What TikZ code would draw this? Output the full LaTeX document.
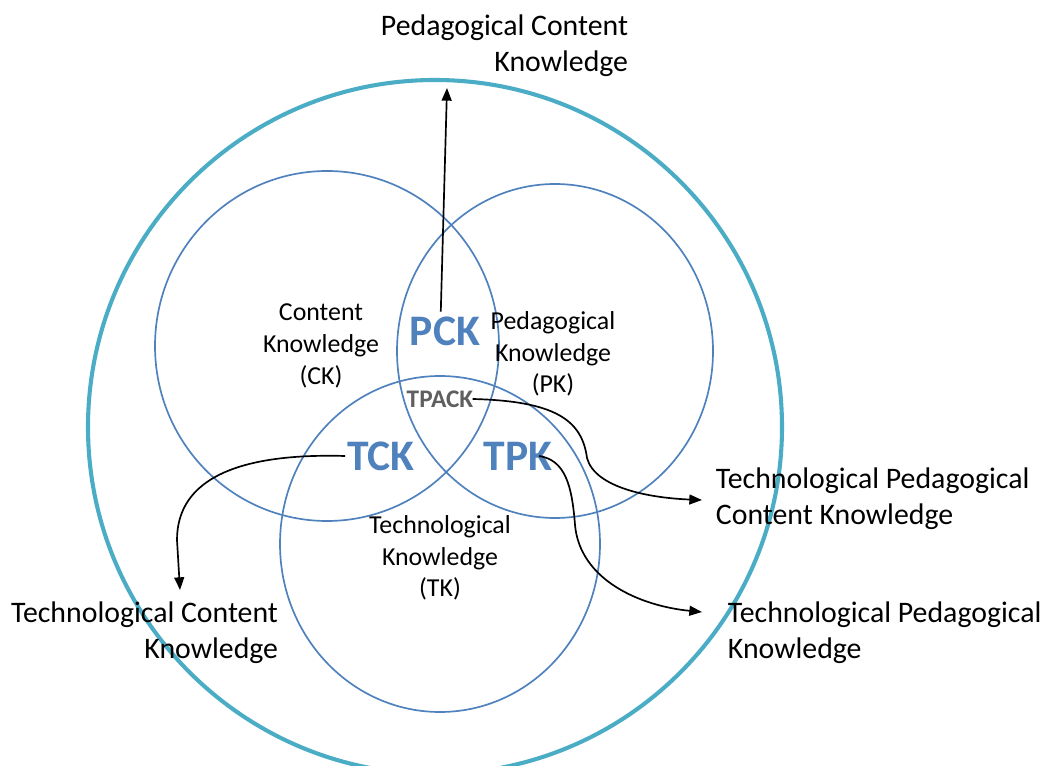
\documentclass[tikz,border=0pt]{standalone}
\usepackage{fontspec}
\setmainfont{Carlito}
\usetikzlibrary{arrows.meta}
\definecolor{ringcyan}{RGB}{75,172,198}
\definecolor{setblue}{RGB}{79,129,189}
\definecolor{tpgray}{RGB}{95,95,95}
\tikzset{
    ring/.style={draw=ringcyan, line width=2.9pt},
    knowset/.style={draw=setblue, line width=1.2pt},
    setname/.style={align=center, font=\fontsize{18.4}{22.6}\selectfont},
    overlap/.style={text=setblue, font=\bfseries\fontsize{31}{33}\selectfont},
    outlabel/.style={font=\fontsize{21.2}{25.8}\selectfont},
    pointer/.style={-{Triangle[length=9pt,width=7pt]}, line width=1.2pt},
}

\begin{document}
\begin{tikzpicture}[x=0.025cm, y=-0.025cm]
    \useasboundingbox (0,0) rectangle (1045,766);
    % rings
    \draw[ring] (435,427) circle [radius=347];
    \draw[knowset] (327,346) ellipse [x radius=172, y radius=175];
    \draw[knowset] (555,351) ellipse [x radius=158, y radius=167];
    \draw[knowset] (440,544) ellipse [x radius=160, y radius=168];
    % set names
    \node[setname] (ck) at (321,346) {Content\\Knowledge\\(CK)};
    \node[setname] (pk) at (553,354) {Pedagogical\\Knowledge\\(PK)};
    \node[setname] (tk) at (440,558) {Technological\\Knowledge\\(TK)};
    \node[overlap] (pck) at (445,331) {PCK};
    \node[overlap] (tck) at (381,456) {TCK};
    \node[overlap] (tpk) at (518,456) {TPK};
    \node[text=tpgray, font=\bfseries\fontsize{18}{20}\selectfont] (tpack) at (440,399) {TPACK};
    % outside labels
    \node[outlabel, align=right, anchor=east] (pcklabel) at (633,46) {Pedagogical Content\\Knowledge};
    \node[outlabel, align=left, anchor=west] (tpcklabel) at (711,499) {Technological Pedagogical\\Content Knowledge};
    \node[outlabel, align=right, anchor=east] (tcklabel) at (283,633) {Technological Content\\Knowledge};
    \node[outlabel, align=left, anchor=west] (tpklabel) at (723,633) {Technological Pedagogical\\Knowledge};
    \coordinate (pcktip) at (447,88);
    \coordinate (tpcktip) at (702,500);
    \coordinate (tcktip) at (180,590);
    \coordinate (tpktip) at (702,612);
    % pointers
    \draw[pointer] ([xshift=-3pt]pck.north) -- (pcktip);
    \draw[pointer] ([xshift=-4pt]tpack.east) .. controls (555,401) and (582,420) .. (587,458)
        .. controls (595,488) and (650,498) .. (tpcktip);
    \draw[pointer] ([xshift=15pt]tpk.center) .. controls (565,460) and (572,485) .. (575,525)
        .. controls (580,580) and (640,606) .. (tpktip);
    \draw[pointer] ([xshift=2pt]tck.west) .. controls (240,453) and (177,478) .. (177,540) -- (tcktip);
\end{tikzpicture}
\end{document}
